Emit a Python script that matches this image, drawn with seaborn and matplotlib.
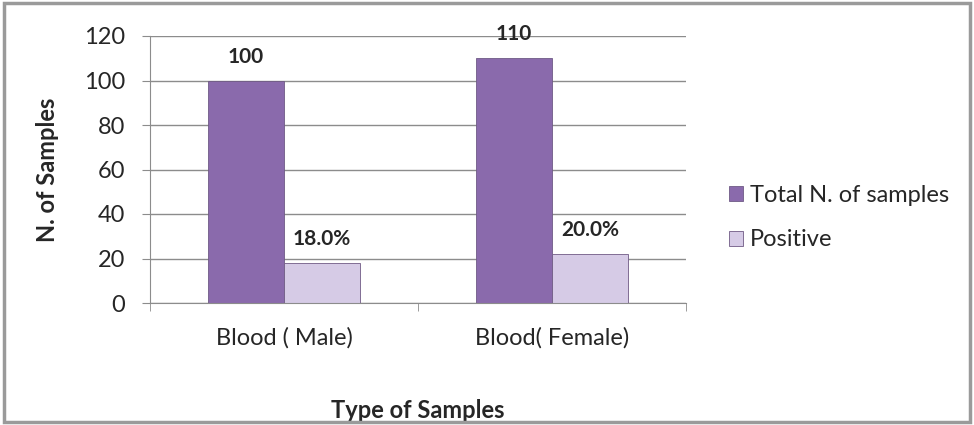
import matplotlib.pyplot as plt
import matplotlib.patches as mpatches
import seaborn as sns
import pandas as pd

sns.set_style("white")
plt.rcParams["font.family"] = ["Lato", "DejaVu Sans"]

# data ########################################################################
sample_types = ["Blood ( Male)", "Blood( Female)"]
series = ["Total N. of samples", "Positive"]
total_samples = [100, 110]
positive_samples = [18, 22]
total_labels = ["100", "110"]
positive_labels = ["18.0%", "20.0%"]

colors = ["#8A6AAC", "#D6CBE6"]

df = pd.DataFrame({
    "type": sample_types * 2,
    "series": [series[0]] * 2 + [series[1]] * 2,
    "value": total_samples + positive_samples,
})

# plot ########################################################################
fig = plt.figure(figsize=(9.74, 4.25), dpi=100)
ax = fig.add_axes([150 / 974, 122 / 425, 536 / 974, 267 / 425])

sns.barplot(data=df, x="type", y="value", hue="series", palette=colors,
            width=0.57, saturation=1, edgecolor="#6f5a85", linewidth=0.6,
            ax=ax)

for cont, labs in zip(ax.containers, [total_labels, positive_labels]):
    ax.bar_label(cont, labels=labs, padding=10, fontsize=15, fontweight="bold")

ax.set_ylim(0, 120)
ax.set_xlim(-0.5, 1.5)
ax.set_yticks(range(0, 121, 20))
ax.yaxis.grid(True, color="#8c8c8c", linewidth=1)
ax.set_axisbelow(True)
for s in ["top", "right"]:
    ax.spines[s].set_visible(False)
for s in ["left", "bottom"]:
    ax.spines[s].set_color("#8c8c8c")
ax.tick_params(axis="y", which="major", left=True, length=6, color="#8c8c8c",
               labelsize=17, pad=12)
ax.tick_params(axis="x", which="major", bottom=False, labelsize=17, pad=14)
ax.set_xticks([-0.5, 0.5, 1.5], minor=True)
ax.tick_params(axis="x", which="minor", bottom=True, length=6, color="#8c8c8c")

ax.set_xlabel("Type of Samples", fontsize=17, fontweight="bold", labelpad=36)
ax.set_ylabel("N. of Samples", fontsize=17, fontweight="bold", labelpad=18)

ax.legend(loc="center left", bbox_to_anchor=(1.04, 0.32), frameon=False,
          fontsize=17, handlelength=0.6, handleheight=0.6, handletextpad=0.3,
          labelspacing=1.0)

# outer frame
fig.patches.append(mpatches.Rectangle((0.004, 0.006), 0.992, 0.988,
                                      transform=fig.transFigure, fill=False,
                                      edgecolor="#9a9a9a", linewidth=2.5))

fig.savefig("out.png", dpi=100)
